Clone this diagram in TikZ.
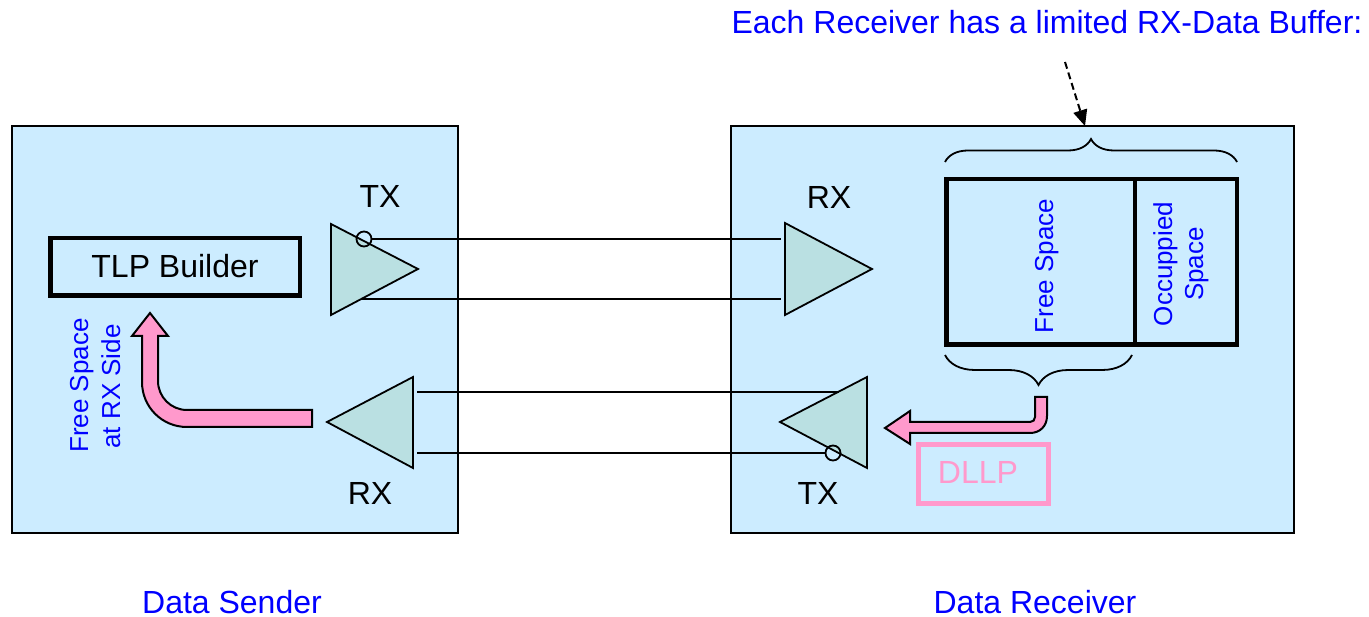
\documentclass[tikz,border=0pt]{standalone}
\usepackage{fontspec}
\setmainfont{Liberation Sans}
\usetikzlibrary{arrows.meta,decorations.pathreplacing}
\definecolor{boxblue}{HTML}{CCECFF}
\definecolor{trifill}{HTML}{BAE0E2}
\definecolor{pinkc}{HTML}{FF99CC}
\definecolor{txtblue}{HTML}{0000FF}
\begin{document}
\begin{tikzpicture}[x=1pt,y=-1pt,
  panel/.style={draw=black,line width=1.5pt,fill=boxblue,inner sep=0pt,outer sep=0pt},
  thickbox/.style={draw=black,line width=4.5pt,inner sep=0pt,outer sep=0pt},
  tri/.style={draw=black,line width=1.8pt,fill=trifill,line join=miter},
  wire/.style={draw=black,line width=1.8pt},
  bubble/.style={circle,draw=black,line width=1.8pt,minimum size=15pt,inner sep=0pt,outer sep=0pt},
  big/.style={font=\fontsize{32}{38}\selectfont,inner sep=0pt},
  bluebig/.style={big,text=txtblue},
  small/.style={font=\fontsize{26}{30}\selectfont,inner sep=0pt,text=txtblue},
  brc/.style={draw=black,line width=1.8pt,decorate,decoration={brace,amplitude=#1}},
  pinkarrow/.style={draw=black,line width=2pt,fill=pinkc,line join=miter},
]
\useasboundingbox (0,0) rectangle (1369,617);

% panels
\node[panel,minimum width=446pt,minimum height=407pt] (sender) at (235,329.5) {};
\node[panel,minimum width=563pt,minimum height=407pt] (receiver) at (1012.5,329.5) {};

% TLP builder
\node[thickbox,minimum width=249.5pt,minimum height=57.5pt] (tlp) at (175,267) {};
\node[big,anchor=base] (tlptxt) at (175,278) {TLP Builder};

% triangles
\draw[tri] (331,224) -- (418,269) -- (331,315) -- cycle; % sender TX
\draw[tri] (785,223) -- (872,269) -- (785,315) -- cycle; % receiver RX
\draw[tri] (413,377) -- (327,422) -- (413,468) -- cycle; % sender RX
\draw[tri] (867,377) -- (780,422) -- (867,468) -- cycle; % receiver TX

% bubbles
\node[bubble] (b1) at (364,239) {};
\node[bubble] (b2) at (833,453) {};

% wire end points
\coordinate (stxlow) at (361,299);
\coordinate (rrxtop) at (781,239);
\coordinate (rrxlow) at (781,299);
\coordinate (srxtop) at (417,392);
\coordinate (srxlow) at (417,453);
\coordinate (rtxtop) at (839,392);

\draw[wire] (b1.east) -- (rrxtop);
\draw[wire] (stxlow) -- (rrxlow);
\draw[wire] (srxtop) -- (rtxtop);
\draw[wire] (srxlow) -- (b2.west);

% labels TX/RX
\node[big,anchor=base] (ltx) at (380,208) {TX};
\node[big,anchor=base] (rrx) at (829,209) {RX};
\node[big,anchor=base] (lrx) at (370,505) {RX};
\node[big,anchor=base] (rtx) at (818,505) {TX};

% buffer
\coordinate (bufA) at (946.25,179.25);
\coordinate (bufB) at (1236.75,344.75);
\coordinate (divT) at (1135,179.25);
\coordinate (divB) at (1135,344.75);
\draw[thickbox] (bufA) rectangle (bufB);
\draw[thickbox] (divT) -- (divB);
\node[small,rotate=90,anchor=base] (free) at (1053,266) {Free Space};
\node[small,rotate=90,anchor=base] (occ1) at (1172,264) {Occuppied};
\node[small,rotate=90,anchor=base] (occ2) at (1203,264) {Space};

% braces
\coordinate (tbl) at (945,162);
\coordinate (tbr) at (1237,162);
\coordinate (bbl) at (945,355);
\coordinate (bbr) at (1132,355);
\draw[brc=23pt] (tbl) -- (tbr);
\draw[brc=30pt] (bbr) -- (bbl);

% dashed pointer
\coordinate (ds) at (1065,62);
\coordinate (de) at (1085,126);
\draw[line width=2pt,dash pattern=on 7pt off 4pt,-{Triangle[length=16pt,width=14pt]}] (ds) -- (de);
\node[bluebig,anchor=base] (title) at (1047,34) {Each Receiver has a limited RX-Data Buffer:};

% pink arrows
\draw[pinkarrow] (312,410) -- (187,410) .. controls (171,410) and (158,397) .. (158,381)
  -- (158,336) -- (168,336) -- (150,313) -- (132,336) -- (142,336) -- (142,382)
  .. controls (142,407) and (162,427) .. (187,427) -- (312,427) -- cycle;
\draw[pinkarrow] (1035,397) -- (1047,397) -- (1047,416) .. controls (1047,426) and (1040,433) .. (1030,433)
  -- (910,433) -- (910,444) -- (885,428) -- (910,411) -- (910,422) -- (1030,422)
  .. controls (1033,422) and (1035,420) .. (1035,417) -- cycle;

% rotated left label
\node[small,rotate=90,anchor=base] (fs1) at (88,385.5) {Free Space};
\node[small,rotate=90,anchor=base] (fs2) at (120,386.5) {at RX Side};

% DLLP
\node[draw=pinkc,line width=5pt,minimum width=130pt,minimum height=59pt,inner sep=0pt] (dllp) at (983.5,474) {};
\node[big,text=pinkc,anchor=base] (dllptxt) at (978,484) {DLLP};

% captions
\node[bluebig,anchor=base] (sl) at (232,613) {Data Sender};
\node[bluebig,anchor=base] (rl) at (1035,613) {Data Receiver};
\end{tikzpicture}
\end{document}
